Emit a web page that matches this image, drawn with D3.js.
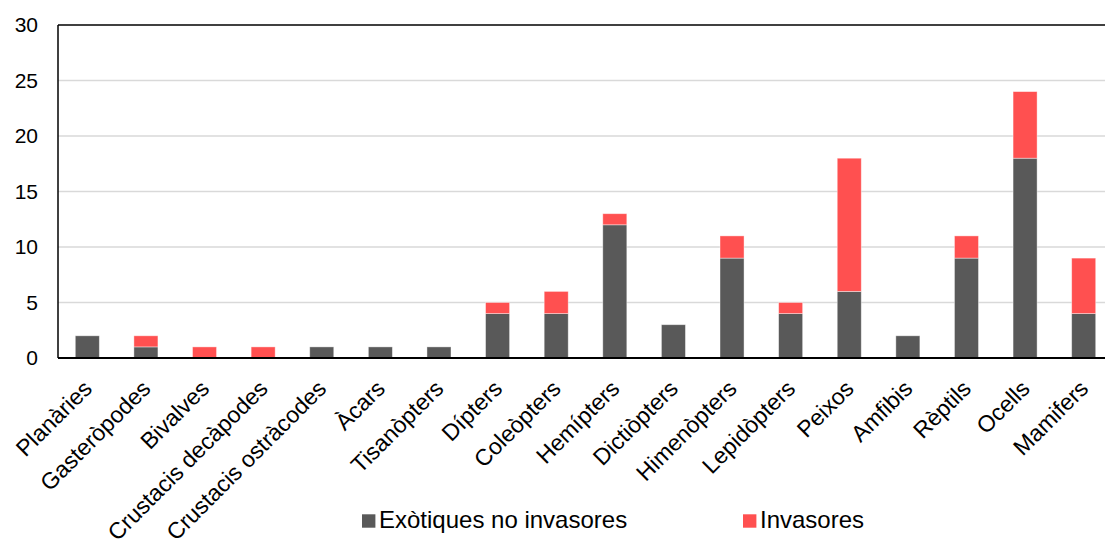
<!DOCTYPE html>
<html><head><meta charset="utf-8">
<script src="https://cdn.jsdelivr.net/npm/d3@7"></script>
<style>body{margin:0;background:#fff;} svg{display:block;font-family:"Liberation Sans",Arial,sans-serif;}</style>
</head><body>
<svg id="c" width="1105" height="540"></svg>
<script>
const categories = ["Planàries","Gasteròpodes","Bivalves","Crustacis decàpodes","Crustacis ostràcodes","Àcars","Tisanòpters","Dípters","Coleòpters","Hemípters","Dictiòpters","Himenòpters","Lepidòpters","Peixos","Amfibis","Rèptils","Ocells","Mamifers"];
const exotiques = [2,1,0,0,1,1,1,4,4,12,3,9,4,6,2,9,18,4];
const invasores = [0,1,1,1,0,0,0,1,2,1,0,2,1,12,0,2,6,5];
const seriesNames = ["Exòtiques no invasores","Invasores"];
const seriesColors = ["#595959","#FF5050"];
const yTicks = [0,5,10,15,20,25,30];

const svg = d3.select("#c");
const mL = 58, mR = 1113, mT = 25, mB = 358;
const x = d3.scaleBand().domain(categories).range([mL,mR]).paddingInner(0.59).paddingOuter(0.295);
const y = d3.scaleLinear().domain([0,30]).range([mB,mT]);

// gridlines
svg.append("g").selectAll("line").data(yTicks.filter(t=>t>0 && t<30)).join("line")
  .attr("x1",mL).attr("x2",mR).attr("y1",d=>y(d)).attr("y2",d=>y(d))
  .attr("stroke","#d9d9d9").attr("stroke-width",1.5);

const table = categories.map((c,i)=>({cat:c, Exotiques:exotiques[i], Invasores:invasores[i]}));
const stack = d3.stack().keys(["Exotiques","Invasores"])(table);
svg.append("g").selectAll("g").data(stack).join("g").attr("fill",(d,i)=>seriesColors[i])
  .selectAll("rect").data(d=>d.filter(p=>p[1]-p[0]>0)).join("rect")
  .attr("x",d=>x(d.data.cat)).attr("width",x.bandwidth())
  .attr("y",d=>y(d[1])).attr("height",d=>y(d[0])-y(d[1]))
  .attr("stroke","#ffffff").attr("stroke-opacity",0.5).attr("stroke-width",0.8);

// frame
svg.append("line").attr("x1",mL).attr("x2",mR).attr("y1",mT).attr("y2",mT).attr("stroke","#000").attr("stroke-width",1.5);
svg.append("line").attr("x1",mL).attr("x2",mL).attr("y1",mT).attr("y2",mB).attr("stroke","#000").attr("stroke-width",1.5);
svg.append("line").attr("x1",mL).attr("x2",mR).attr("y1",mB).attr("y2",mB).attr("stroke","#000").attr("stroke-width",1.8);

// y axis labels
const yAxis = d3.axisLeft(y).tickValues(yTicks).tickSize(0).tickPadding(20);
const ya = svg.append("g").attr("transform",`translate(${mL},0)`).call(yAxis);
ya.select(".domain").remove();
ya.selectAll("text").attr("font-size",21).attr("fill","#000").attr("font-family","Liberation Sans, Arial, sans-serif");

// x labels
const xAxis = d3.axisBottom(x).tickSize(0);
const xa = svg.append("g").attr("transform",`translate(0,${mB})`).call(xAxis);
xa.select(".domain").remove();
xa.selectAll("text").attr("font-size",23).attr("fill","#000").attr("font-family","Liberation Sans, Arial, sans-serif")
  .attr("text-anchor","end").attr("dy",0).attr("y",0)
  .attr("transform","translate(6,32) rotate(-45)");

// legend
const lg = svg.append("g");
const lx = [362,743];
seriesNames.forEach((n,i)=>{
  lg.append("rect").attr("x",lx[i]).attr("y",514.3).attr("width",13.4).attr("height",13.4).attr("fill",seriesColors[i]);
  lg.append("text").attr("x",lx[i]+17).attr("y",528.3).attr("font-size",24).attr("fill","#000")
    .attr("font-family","Liberation Sans, Arial, sans-serif").text(n);
});
</script>
</body></html>
